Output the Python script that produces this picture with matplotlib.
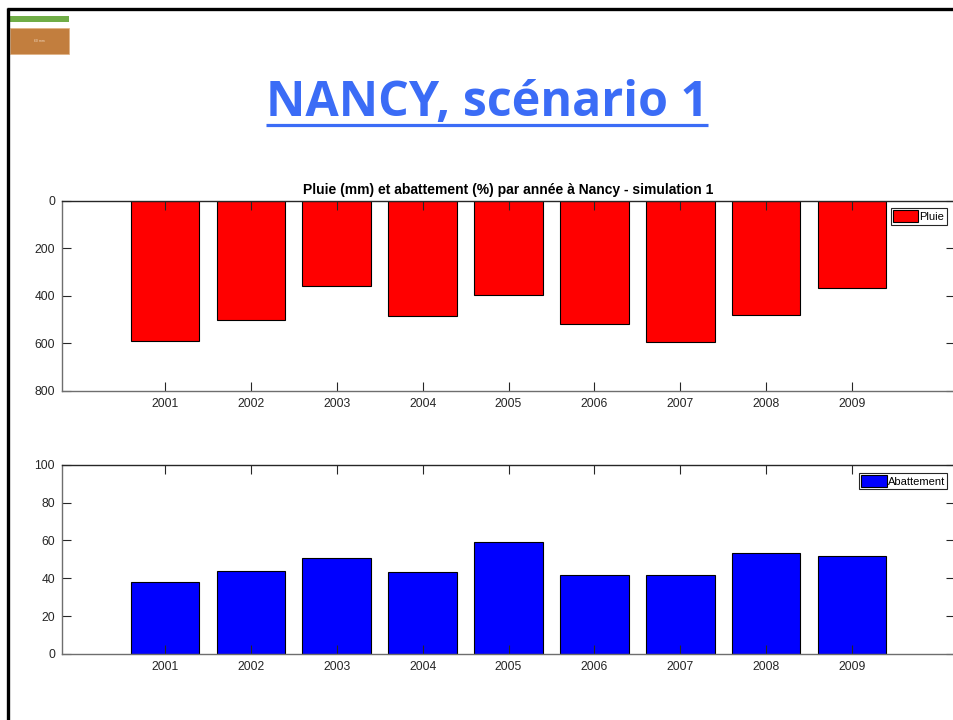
import matplotlib
matplotlib.use("Agg")
import matplotlib.pyplot as plt
from matplotlib.lines import Line2D
from matplotlib.patches import Rectangle

years = [2001, 2002, 2003, 2004, 2005, 2006, 2007, 2008, 2009]
pluie = [591, 502, 361, 486, 397, 519, 594, 483, 366]
abattement = [37.9, 43.7, 50.5, 43.2, 59.2, 41.9, 41.6, 53.2, 51.6]
pluie_ticks = [0, 200, 400, 600, 800]
abat_ticks = [0, 20, 40, 60, 80, 100]

W, H = 954, 720
fig = plt.figure(figsize=(W / 100, H / 100), dpi=100)
fig.patch.set_facecolor("white")

def fx(px):
    return px / W

def fy(py):
    return 1 - py / H

# slide border (left and top)
fig.add_artist(Line2D([fx(8.5), fx(8.5)], [fy(7.5), fy(720)], color="black", lw=2.4,
                      transform=fig.transFigure, solid_capstyle="butt"))
fig.add_artist(Line2D([fx(7.3), fx(954)], [fy(8.5), fy(8.5)], color="black", lw=2.4,
                      transform=fig.transFigure, solid_capstyle="butt"))

# small decorations top-left
fig.add_artist(Rectangle((fx(10), fy(22)), fx(59), 6 / H, transform=fig.transFigure,
                         facecolor="#70AD47", edgecolor="none"))
fig.add_artist(Rectangle((fx(10), fy(54)), fx(59), 26 / H, transform=fig.transFigure,
                         facecolor="#C27E3E", edgecolor="#E0B080", lw=0.5))
fig.text(fx(39.5), fy(41), "60 mm", fontsize=2.5, color="#F0D8C0", ha="center", va="center",
         family="Liberation Sans")

# main title
title = fig.text(fx(487), fy(116), "NANCY, scénario 1", fontsize=34.8, fontweight="bold",
                 color="#3B6CF6", ha="center", va="baseline", family=["Open Sans", "DejaVu Sans"])
fig.canvas.draw()
bb = title.get_window_extent(renderer=fig.canvas.get_renderer())
fig.add_artist(Line2D([bb.x0 / W, bb.x1 / W], [fy(125), fy(125)], color="#3B6CF6", lw=2.3,
                      transform=fig.transFigure, solid_capstyle="butt"))

font = "Liberation Sans"
tick_color = "#262626"

def style_axes(ax):
    ax.set_xlim(1999.8, 2010.2)
    ax.set_xticks(years)
    ax.set_xticklabels([str(y) for y in years])
    ax.tick_params(axis="both", direction="in", length=6.5, width=0.8, colors=tick_color,
                   labelsize=8.7, top=True, right=True, labelright=False, labeltop=False, pad=5)
    for lab in ax.get_xticklabels() + ax.get_yticklabels():
        lab.set_family(font)
    for s in ["top", "right"]:
        ax.spines[s].set_color("#262626")
    for s in ["left", "bottom"]:
        ax.spines[s].set_color("#6E6E6E")
    for s in ax.spines.values():
        s.set_linewidth(1.0)

legend_kw = dict(loc="upper right", bbox_transform=fig.transFigure, borderaxespad=0,
                 fancybox=False, edgecolor="#262626", framealpha=1,
                 prop={"family": font, "size": 8}, handlelength=2.3, handleheight=1.3,
                 handletextpad=0.1, borderpad=0.2)

# top axes: rainfall (reversed)
ax1 = fig.add_axes([fx(62), fy(390.7), fx(955) - fx(62), (390.7 - 200.7) / H])
ax1.bar(years, pluie, width=0.8, color="#FF0000", edgecolor="black", linewidth=0.8, label="Pluie")
ax1.set_ylim(800, 0)
ax1.set_yticks(pluie_ticks)
style_axes(ax1)
ax1.set_title("Pluie (mm) et abattement (%) par année à Nancy - simulation 1", fontsize=10,
              fontweight="bold", family=font, pad=5)
leg1 = ax1.legend(bbox_to_anchor=(fx(946.7), fy(208)), **legend_kw)
leg1.get_frame().set_linewidth(0.8)

# bottom axes: abatement
ax2 = fig.add_axes([fx(62), fy(654), fx(955) - fx(62), (654 - 464.7) / H])
ax2.bar(years, abattement, width=0.8, color="#0000FF", edgecolor="black", linewidth=0.8, label="Abattement")
ax2.set_ylim(0, 100)
ax2.set_yticks(abat_ticks)
style_axes(ax2)
leg2 = ax2.legend(bbox_to_anchor=(fx(947.3), fy(472.7)), **legend_kw)
leg2.get_frame().set_linewidth(0.8)

fig.savefig("out.png", dpi=100)
